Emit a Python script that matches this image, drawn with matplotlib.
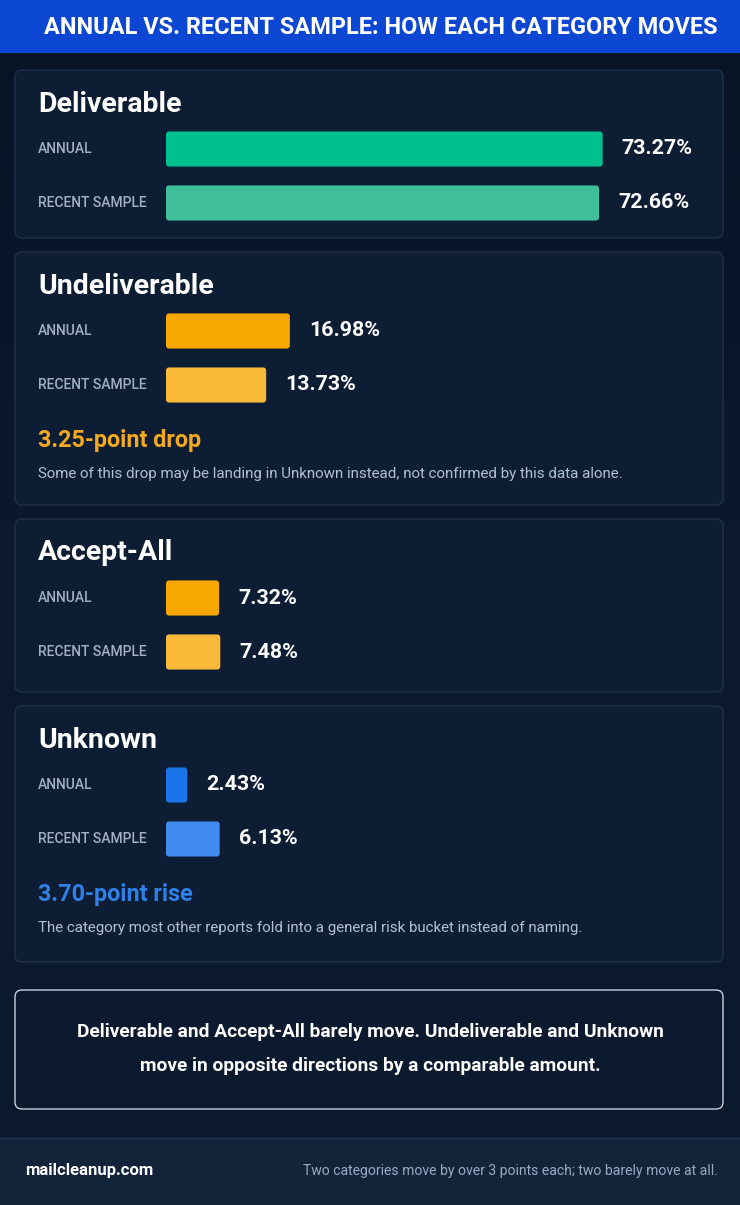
import numpy as np
import matplotlib
matplotlib.use("Agg")
import matplotlib.pyplot as plt
from matplotlib.patches import FancyBboxPatch, Rectangle

plt.rcParams['font.family'] = ['Roboto', 'DejaVu Sans']

# data
categories = ['Deliverable', 'Undeliverable', 'Accept-All', 'Unknown']
annual = [73.27, 16.98, 7.32, 2.43]
recent = [72.66, 13.73, 7.48, 6.13]
row_labels = ['ANNUAL', 'RECENT SAMPLE']
change_heads = ['', '3.25-point drop', '', '3.70-point rise']
change_notes = ['',
                'Some of this drop may be landing in Unknown instead, not confirmed by this data alone.',
                '',
                'The category most other reports fold into a general risk bucket instead of naming.']
title = 'ANNUAL VS. RECENT SAMPLE: HOW EACH CATEGORY MOVES'
summary = ('Deliverable and Accept-All barely move. Undeliverable and Unknown\n'
           'move in opposite directions by a comparable amount.')
footer_left = 'mailcleanup.com'
footer_right = 'Two categories move by over 3 points each; two barely move at all.'

# styles / layout (pixels)
W, H = 740, 1205
bg = '#0a1729'
panel_fc = '#0d1e34'
panel_ec = '#1f3049'
bar_colors = [('#00c08d', '#3fbf9a'), ('#f7a800', '#fbb93a'),
              ('#f7a800', '#fbb93a'), ('#1b74ea', '#418cee')]
head_colors = [None, '#f5a91e', None, '#2f80e8']
panel_top = [70, 252, 519, 706]
panel_bot = [238, 505, 692, 962]
axis_max = [89.6, 73.2, 73.6, 61.0]   # per-panel bar scale
bar_x0, bar_x1 = 166, 700

fig = plt.figure(figsize=(W / 100, H / 100), dpi=100, facecolor=bg)
ax = fig.add_axes([0, 0, 1, 1])
ax.set_xlim(0, W)
ax.set_ylim(H, 0)
ax.axis('off')

# soft background gradient
grad = np.linspace(0, 1, 256).reshape(-1, 1)
cmap = matplotlib.colors.LinearSegmentedColormap.from_list('bg', ['#081324', '#0b1a30', '#0b192d'])
ax.imshow(grad, extent=[0, W, H, 0], cmap=cmap, aspect='auto', zorder=0)

# title bar
ax.add_patch(Rectangle((0, 0), W, 53, fc='#0b47d2', ec='none', zorder=1))
ax.text(718, 28, title, color='white', fontsize=16.9, fontweight='bold',
        ha='right', va='center', zorder=2)

for i, cat in enumerate(categories):
    top, bot = panel_top[i], panel_bot[i]
    ax.add_patch(FancyBboxPatch((15, top), 708, bot - top,
                                boxstyle='round,pad=0,rounding_size=7',
                                fc=panel_fc, ec=panel_ec, lw=1, zorder=1))
    ax.text(38, top + 34, cat, color='white', fontsize=20.5, fontweight='bold',
            ha='left', va='center', zorder=2)
    for j, lab in enumerate(row_labels):
        ax.text(38, top + 79 + 54 * j, lab, color='#a3afc7', fontsize=10,
                fontweight='medium', ha='left', va='center', zorder=2)
    if change_heads[i]:
        ax.text(38, top + 188, change_heads[i], color=head_colors[i], fontsize=16.8,
                fontweight='bold', ha='left', va='center', zorder=2)
        ax.text(38, top + 222, change_notes[i], color='#b3bed3', fontsize=10.9,
                ha='left', va='center', zorder=2)

    # bar axes for this panel
    y0 = top + 52
    bax = fig.add_axes([bar_x0 / W, 1 - (y0 + 108) / H, (bar_x1 - bar_x0) / W, 108 / H])
    bax.set_xlim(0, axis_max[i])
    bax.set_ylim(1.5, -0.5)
    bax.axis('off')
    bax.patch.set_alpha(0)
    vals = [annual[i], recent[i]]
    bars = bax.barh([0, 1], vals, height=0.65, color='none')
    px_per_unit = (bar_x1 - bar_x0) / axis_max[i]
    r = 3 / px_per_unit
    for b, c in zip(bars, bar_colors[i]):
        bax.add_patch(FancyBboxPatch((b.get_x(), b.get_y()), b.get_width(), b.get_height(),
                                     boxstyle=f'round,pad=0,rounding_size={r}',
                                     mutation_aspect=px_per_unit / 54,
                                     fc=c, ec='none'))
    for k, v in enumerate(vals):
        bax.annotate(f'{v:.2f}%', xy=(v, k), xytext=(19, 0), textcoords='offset pixels',
                     color='white', fontsize=15.4, fontweight='bold', ha='left', va='center')

# summary box
ax.add_patch(FancyBboxPatch((15, 990), 708, 119, boxstyle='round,pad=0,rounding_size=7',
                            fc='#0b1a2e', ec='#c9d0dc', lw=1.0, zorder=1))
ax.text(370, 1049, summary, color='white', fontsize=13.8, fontweight='bold',
        ha='center', va='center', linespacing=2.15, zorder=2)

# footer
ax.add_patch(Rectangle((0, 1138), W, H - 1138, fc='#13233a', ec='none', zorder=1))
ax.plot([0, W], [1138, 1138], color='#22354f', lw=1, zorder=2)
ax.text(25, 1171, footer_left, color='white', fontsize=12, fontweight='bold',
        ha='left', va='center', zorder=2)
ax.text(718, 1171, footer_right, color='#9ba8c3', fontsize=10.1,
        ha='right', va='center', zorder=2)

fig.savefig('out.png', dpi=100, facecolor=fig.get_facecolor())
